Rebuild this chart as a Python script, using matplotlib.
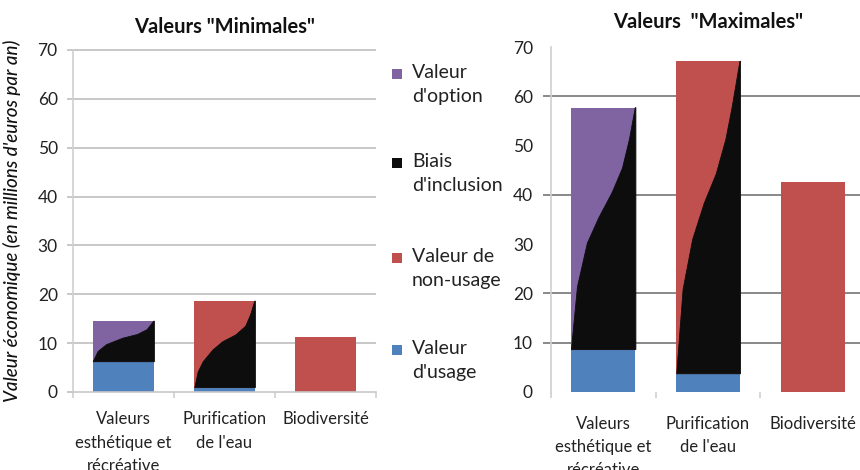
import matplotlib
matplotlib.use("Agg")
import matplotlib.pyplot as plt
from matplotlib.patches import Polygon, Rectangle

plt.rcParams['font.family'] = ['Lato', 'DejaVu Sans']

# ---- data ----
categories = ["Valeurs\nesthétique et\nrécréative", "Purification\nde l'eau", "Biodiversité"]

min_usage = [6.2, 0.9, 0.0]
min_option = [8.3, 0.0, 0.0]
min_non_usage = [0.0, 17.7, 11.2]

max_usage = [8.6, 3.7, 0.0]
max_option = [49.1, 0.0, 0.0]
max_non_usage = [0.0, 63.4, 42.7]

# inclusion-bias profile inside the top segment of each bar:
# (fraction across bar width, fraction of segment height)
bias_min_esth = [(0, 0), (0.08, 0.25), (0.22, 0.42), (0.49, 0.58), (0.73, 0.67), (0.89, 0.79), (1, 1)]
bias_min_eau = [(0.01, 0), (0.065, 0.18), (0.15, 0.30), (0.31, 0.435), (0.47, 0.53), (0.69, 0.61),
                (0.85, 0.71), (0.93, 0.84), (1, 1)]
bias_max_esth = [(0, 0), (0.095, 0.26), (0.25, 0.44), (0.43, 0.545), (0.64, 0.65), (0.80, 0.75),
                 (0.91, 0.87), (1, 1)]
bias_max_eau = [(0.01, 0), (0.11, 0.27), (0.26, 0.43), (0.44, 0.545), (0.63, 0.64), (0.78, 0.75),
                (0.88, 0.855), (1, 1)]

legend_labels = ["Valeur\nd'option", "Biais\nd'inclusion", "Valeur de\nnon-usage", "Valeur\nd'usage"]

BLUE = "#4F81BD"
RED = "#C0504D"
PURPLE = "#8064A2"
BLACK = "#0d0d0d"

W, H = 860, 470
fig = plt.figure(figsize=(W / 100, H / 100), dpi=100)


def px_axes(x0, x1, ytop, ybot):
    return fig.add_axes([x0 / W, (H - ybot) / H, (x1 - x0) / W, (ybot - ytop) / H])


def draw_panel(ax, usage, option, non_usage, profiles, width):
    x = list(range(len(categories)))
    ax.bar(x, usage, width, color=BLUE, zorder=2)
    ax.bar(x, option, width, bottom=usage, color=PURPLE, zorder=2)
    ax.bar(x, non_usage, width, bottom=usage, color=RED, zorder=2)
    for i, prof in profiles.items():
        base = usage[i]
        seg = option[i] + non_usage[i]
        left = x[i] - width / 2
        pts = [(left + fx * width, base + fy * seg) for fx, fy in prof]
        pts += [(left + width * 1.01, base + seg), (left + width * 1.01, base)]
        ax.add_patch(Polygon(pts, closed=True, facecolor=BLACK, edgecolor=BLACK,
                             linewidth=0.6, zorder=3))
    ax.set_ylim(0, 70)
    ax.set_yticks(range(0, 71, 10))
    ax.set_xticks(x)
    ax.set_xticklabels(categories, fontsize=12, color="#222222", linespacing=1.55)
    ax.set_xticks([-0.5, 0.5, 1.5, 2.5], minor=True)
    for s in ("top", "right"):
        ax.spines[s].set_visible(False)
    ax.spines["left"].set_color("#d0d0d0")
    ax.spines["left"].set_linewidth(1.2)
    ax.tick_params(axis="y", length=0, labelsize=12.5, labelcolor="#222222")
    ax.tick_params(axis="x", which="major", length=0)
    ax.tick_params(axis="x", which="minor", length=4.5, color="#d0d0d0", width=1.2)
    ax.set_facecolor("none")


# ---- left panel: minimum values ----
axL = px_axes(73, 376, 50, 392)
draw_panel(axL, min_usage, min_option, min_non_usage, {0: bias_min_esth, 1: bias_min_eau}, 0.6)
axL.set_xlim(-0.5, 2.5)
axL.spines["bottom"].set_color("#c8c8c8")
axL.spines["bottom"].set_linewidth(1.2)
axL.hlines(range(10, 71, 10), -0.02, 1.0, transform=axL.get_yaxis_transform(),
           colors="#c4c4c4", linewidth=1.3, zorder=1, clip_on=False)
axL.hlines([0], -0.02, 0, transform=axL.get_yaxis_transform(),
           colors="#c4c4c4", linewidth=1.3, zorder=1, clip_on=False)
axL.tick_params(axis="y", pad=11)
axL.tick_params(axis="x", which="major", pad=14)
axL.set_title('Valeurs "Minimales"', fontsize=14.5, fontweight="bold", pad=12, color="#111111")
axL.set_ylabel("Valeur économique (en millions d'euros par an)", fontsize=13.5,
               style="italic", fontweight="medium", color="#111111", labelpad=12)

# ---- right panel: maximum values ----
axR = px_axes(551, 865, 47, 392)
draw_panel(axR, max_usage, max_option, max_non_usage, {0: bias_max_esth, 1: bias_max_eau}, 0.61)
axR.set_xlim(-0.5, 2.5)
axR.spines["bottom"].set_visible(False)
axR.hlines([10, 20, 40, 60], -0.025, 1.0, transform=axR.get_yaxis_transform(),
           colors="#808080", linewidth=1.3, zorder=1, clip_on=False)
axR.tick_params(axis="y", pad=13)
axR.tick_params(axis="x", which="major", pad=17)
axR.set_title('Valeurs  "Maximales"', fontsize=14.5, fontweight="bold", pad=14, color="#111111")

# ---- legend between panels ----
legend_colors = [PURPLE, BLACK, RED, BLUE]
legend_y = [74, 163, 258, 350]
for lab, col, yy in zip(legend_labels, legend_colors, legend_y):
    fig.patches.append(Rectangle(((397 - 5) / W, (H - yy - 5) / H), 10 / W, 10 / H,
                                 transform=fig.transFigure, facecolor=col, edgecolor="none"))
    fig.text(412 / W, (H - yy + 10) / H, lab, fontsize=14, va="top", ha="left",
             color="#222222", linespacing=1.5)

fig.savefig("out.png", dpi=100)
